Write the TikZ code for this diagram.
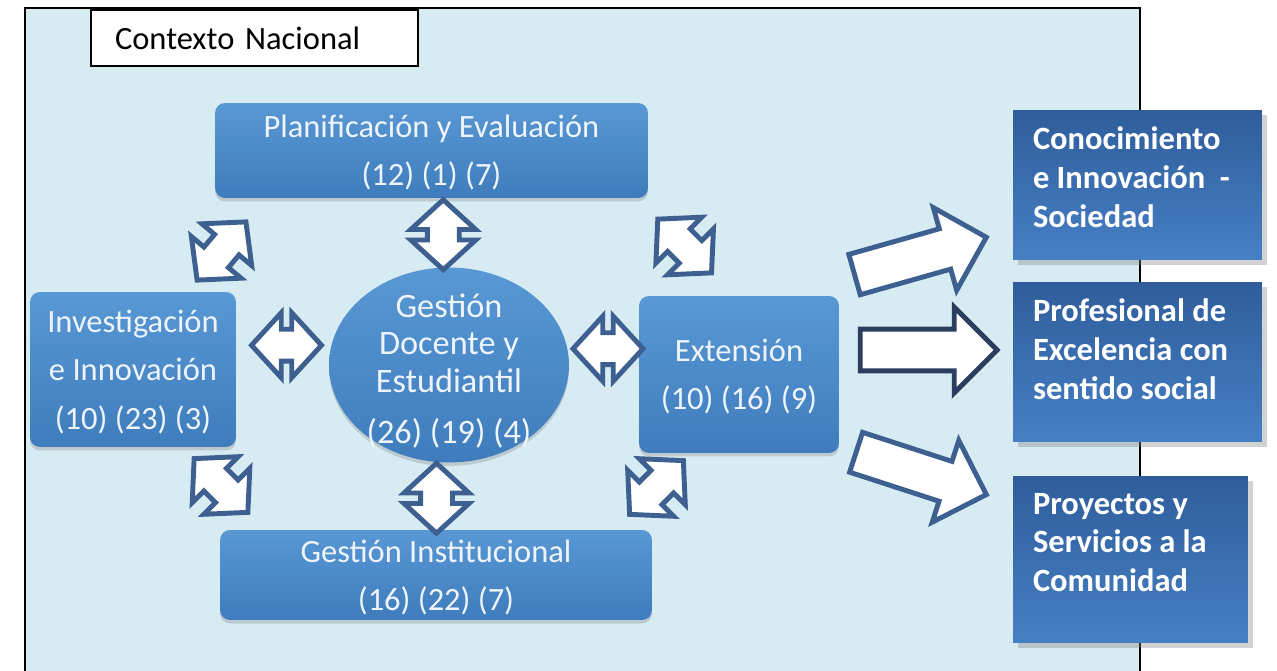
\documentclass[tikz,border=0pt]{standalone}
\usepackage{fontspec}
\setmainfont{Carlito}
\usetikzlibrary{shapes.geometric,shapes.arrows,shadows,calc}

\definecolor{fondo}{HTML}{D6EBF2}
\definecolor{azulsup}{HTML}{5898D4}
\definecolor{azulinf}{HTML}{3F7CBD}
\definecolor{oscsup}{HTML}{2F5D9B}
\definecolor{oscinf}{HTML}{4680C5}
\definecolor{borde}{HTML}{3D6090}
\definecolor{bordeosc}{HTML}{2B3E5F}
\definecolor{letra}{HTML}{EEF4FA}

\tikzset{
	caja/.style={rectangle, rounded corners=0.2cm, top color=azulsup, bottom color=azulinf,
		text=letra, align=center, inner sep=0pt, text depth=-4pt, font=\fontsize{18.5}{27.5}\selectfont,
		drop shadow={shadow xshift=0pt, shadow yshift=-2pt, opacity=0.3}},
	elipse/.style={ellipse, top color=azulsup, bottom color=azulinf, inner sep=0pt,
		drop shadow={shadow xshift=0pt, shadow yshift=-2pt, opacity=0.3}},
	resultado/.style={rectangle, top color=oscsup, bottom color=oscinf, inner sep=0pt,
		drop shadow={shadow xshift=3pt, shadow yshift=-3pt, opacity=0.35}},
	restexto/.style={text=white, font=\bfseries\fontsize{18.5}{22}\selectfont,
		align=left, anchor=north west, inner sep=0pt},
	dobleflecha/.style={double arrow, draw=borde, fill=white, line width=2.8pt,
		inner xsep=0pt, inner ysep=0.27cm, minimum height=1.4cm,
		double arrow head extend=0.33cm, double arrow tip angle=95},
	flechadiag/.style={dobleflecha, minimum height=1.52cm},
	flechagrande/.style={single arrow, draw=borde, fill=white, line width=2.8pt, anchor=tip,
		inner xsep=0pt, inner ysep=0.37cm, minimum height=2.74cm, single arrow head extend=0.44cm}
}

\begin{document}
\begin{tikzpicture}[x=0.02cm,y=-0.02cm]
	%\draw[help lines,step=50] (0,0) grid (1277,671);
	\useasboundingbox (0,0) rectangle (1277,671);
	\clip (0,0) rectangle (1277,671);
	\fill[white] (0,0) rectangle (1277,671);
	\draw[line width=1.1pt, fill=fondo] (25,8) rectangle (1140,700);
	\node[draw, line width=1.4pt, fill=white, text width=5.58cm, inner xsep=0.48cm,
		minimum height=1.12cm, align=left, font=\fontsize{18.5}{22}\selectfont] (ctx) at (254.5,38) {Contexto Nacional};

	\node[caja, minimum width=8.66cm, minimum height=1.9cm] (plan) at (431.5,150.5) {Planificación y Evaluación\\(12) (1) (7)};
	\node[caja, minimum width=4.12cm, minimum height=3.1cm] (inv) at (133,369.5) {Investigación\\e Innovación\\(10) (23) (3)};
	\node[elipse, minimum width=4.8cm, minimum height=3.9cm] (gde) at (449,365) {};
	\node[text=letra, align=center, inner sep=0pt, font=\fontsize{19.5}{21.3}\selectfont] (gde-t) at ($(gde)+(0,6)$)
		{Gestión\\Docente y\\Estudiantil\\[8pt](26) (19) (4)};
	\node[caja, minimum width=4cm, minimum height=3.14cm] (ext) at (739,374.5) {Extensión\\(10) (16) (9)};
	\node[caja, minimum width=8.64cm, minimum height=1.8cm] (gi) at (436,575) {Gestión Institucional\\(16) (22) (7)};

	\foreach \p/\q/\ang/\dx/\dy in {plan.south/gde.north/90/3/2, gde.south/gi.north/90/-6/2,
		inv.east/gde.west/0/4/-22, gde.east/ext.west/0/4/-21}{
		\node[dobleflecha, rotate=\ang] at ($(\p)!0.5!(\q)+(\dx,\dy)$) {};
	}
	\foreach \p/\q/\ang/\dx/\dy in {plan.south west/inv.north east/50/-4/6, plan.south east/ext.north/-45/-9/-1,
		inv.south east/gi.north west/-45/-7/-3, ext.south west/gi.north east/45/11/-4}{
		\node[flechadiag, rotate=\ang] at ($(\p)!0.5!(\q)+(\dx,\dy)$) {};
	}

	\node[resultado, minimum width=4.98cm, minimum height=3cm] (kno) at (1137.5,185) {};
	\node[resultado, minimum width=4.98cm, minimum height=3.2cm] (pro) at (1137.5,362) {};
	\node[resultado, minimum width=4.7cm, minimum height=3.34cm] (com) at (1130.5,559.5) {};
	\node[restexto] (kno-t) at ([shift={(20,17)}]kno.north west) {Conocimiento\\e Innovación\ \ -\\Sociedad};
	\node[restexto] (pro-t) at ([shift={(20,17)}]pro.north west) {Profesional de\\Excelencia con\\sentido social};
	\node[restexto] (com-t) at ([shift={(20,17)}]com.north west) {Proyectos y\\Servicios a la\\Comunidad};

	\node[flechagrande, rotate=15.8] (f1) at ($(kno.south west)+(-23,-24)$) {};
	\node[flechagrande, draw=bordeosc, rotate=0] (f2) at ($(pro.west)+(-12,-12)$) {};
	\node[flechagrande, rotate=-18] (f3) at ($(com.north west)+(-23,20)$) {};
\end{tikzpicture}
\end{document}
